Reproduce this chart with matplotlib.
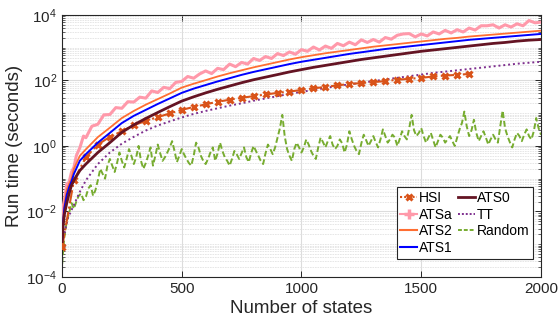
import numpy as np
import matplotlib
matplotlib.use("Agg")
import matplotlib.pyplot as plt
from matplotlib.lines import Line2D
from matplotlib.ticker import LogLocator, FixedLocator, NullFormatter

plt.rcParams["font.family"] = ["Liberation Sans", "DejaVu Sans"]
plt.rcParams["mathtext.fontset"] = "custom"
plt.rcParams["mathtext.rm"] = "Liberation Sans"
plt.rcParams["mathtext.default"] = "regular"

# ---- run time (seconds) versus number of states ----
x_hsi = [1, 50, 100, 150, 200, 250, 300, 350, 400, 450, 500, 550, 600, 650, 700,
         750, 800, 850, 900, 950, 1000, 1050, 1100, 1150, 1200, 1250, 1300, 1350,
         1400, 1450, 1500, 1550, 1600, 1650, 1700]
hsi = [0.00083, 0.09, 0.45, 1.1, 1.9, 2.8, 4.3, 5.8, 7.6, 9.8, 12.6, 15.5, 18.6,
       22.4, 25.7, 29.5, 33.1, 37.2, 41.7, 45.7, 51.3, 57.5, 63.1, 70.8, 77.6, 83.2,
       89.1, 95.5, 105, 112, 120, 132, 141, 148, 158]

x_smooth = [1, 5, 10, 20, 30, 40, 50, 75, 100, 150, 200, 250, 300, 350, 400, 450,
            500, 550, 600, 650, 700, 750, 800, 850, 900, 950, 1000, 1050, 1100, 1150,
            1200, 1250, 1300, 1350, 1400, 1450, 1500, 1550, 1600, 1650, 1700, 1750,
            1800, 1850, 1900, 1950, 2000]
ats0 = [0.0012, 0.00355, 0.0079, 0.0178, 0.0355, 0.063, 0.089, 0.178, 0.28, 0.63,
        1.26, 2.6, 4.4, 6.9, 10.5, 15.8, 23.4, 31.6, 41.7, 53.7, 67.6, 85.1, 105, 126,
        151, 182, 214, 251, 288, 331, 380, 437, 490, 550, 617, 692, 776, 851, 933,
        1023, 1122, 1230, 1349, 1445, 1585, 1698, 1778]
ats1 = [0.0014, 0.005, 0.0126, 0.0316, 0.055, 0.083, 0.14, 0.355, 0.56, 1.26, 2.5,
        5.0, 8.3, 12.6, 19.1, 28.2, 41.7, 56.2, 72.4, 93.3, 117, 148, 182, 219, 263,
        316, 372, 427, 490, 562, 646, 724, 813, 912, 1000, 1096, 1202, 1318, 1445,
        1585, 1738, 1862, 1995, 2138, 2291, 2455, 2630]
ats2 = [0.0016, 0.0063, 0.0158, 0.045, 0.07, 0.1, 0.2, 0.5, 0.79, 1.86, 3.6, 7.1,
        11.7, 18.2, 26.9, 39.8, 60.3, 79.4, 102, 132, 166, 204, 251, 302, 363, 437,
        513, 589, 676, 759, 851, 955, 1072, 1175, 1288, 1413, 1549, 1698, 1862, 1995,
        2188, 2344, 2512, 2692, 2884, 3090, 3311]

x_atsa = [1, 5, 10, 20, 30, 40, 50, 60, 75, 90, 100, 125, 150, 175, 200, 225, 250,
          275, 300, 325, 350, 375, 400, 425, 450, 475, 500, 525, 550, 575, 600, 625,
          650, 675, 700, 725, 750, 775, 800, 825, 850, 875, 900, 925, 950, 975, 1000,
          1025, 1050, 1075, 1100, 1125, 1150, 1175, 1200, 1225, 1250, 1275, 1300,
          1325, 1350, 1375, 1400, 1425, 1450, 1475, 1500, 1525, 1550, 1575, 1600,
          1625, 1650, 1675, 1700, 1725, 1750, 1775, 1800, 1825, 1850, 1875, 1900,
          1925, 1950, 1975, 2000]
atsa = [0.0045, 0.014, 0.022, 0.068, 0.079, 0.16, 0.22, 0.5, 0.89, 2.0, 1.78, 4.0,
        4.6, 8.9, 9.1, 14.8, 14.1, 22.4, 21.9, 30.9, 28.8, 47.9, 42.7, 61.7, 56.2,
        87.1, 93.3, 132, 117, 158, 195, 162, 234, 214, 316, 263, 355, 316, 468, 407,
        537, 468, 661, 575, 741, 631, 871, 776, 1047, 851, 1122, 955, 1349, 1148,
        1479, 1230, 1738, 1445, 1778, 1479, 2042, 1820, 2399, 2630, 2692, 2138, 2630,
        2291, 3020, 2630, 3388, 2818, 3548, 3020, 3981, 3467, 4677, 4677, 5012, 3981,
        5012, 4266, 5370, 4677, 6761, 5754, 6026]

x_tt = [1, 10, 25, 50, 75, 100, 150, 200, 250, 300, 350, 400, 450, 500, 550, 600,
        650, 700, 750, 800, 850, 900, 950, 1000, 1050, 1100, 1150, 1200, 1250, 1300,
        1350, 1400, 1450, 1500, 1550, 1600, 1650, 1700, 1750, 1800, 1850, 1900, 1950,
        2000]
tt = [0.00079, 0.002, 0.0063, 0.0158, 0.04, 0.089, 0.28, 0.63, 1.17, 1.9, 2.95, 4.2,
      5.6, 7.4, 9.5, 11.7, 14.1, 17.0, 20.0, 24.0, 28.2, 33.1, 38.9, 44.7, 51.3, 58.9,
      67.6, 75.9, 85.1, 95.5, 107, 120, 135, 151, 170, 186, 204, 224, 245, 269, 295,
      324, 347, 372]

x_random = [1, 5] + list(range(10, 2001, 10))
random_t = [
    0.00025, 0.00063,
    0.0016, 0.005, 0.009, 0.018, 0.012, 0.02, 0.03, 0.035, 0.022, 0.028,
    0.05, 0.063, 0.03, 0.045, 0.09, 0.2, 0.14, 0.1, 0.25, 0.4,
    0.25, 0.16, 0.3, 0.63, 0.35, 0.22, 0.4, 0.8, 0.5, 0.28,
    0.45, 1.0, 0.35, 0.2, 0.3, 0.5, 0.9, 0.25, 0.5, 1.1,
    0.6, 0.35, 0.45, 0.63, 0.9, 1.4, 0.7, 0.32, 0.5, 0.8,
    0.55, 0.4, 0.3, 0.25, 0.5, 1.26, 0.9, 0.5, 0.35, 0.28,
    0.4, 0.63, 0.9, 0.35, 0.6, 1.26, 0.7, 0.45, 0.35, 0.25,
    0.4, 0.7, 0.55, 0.4, 0.6, 0.9, 0.45, 0.32, 0.6, 1.0,
    0.7, 0.5, 0.35, 0.28, 0.6, 1.1, 0.8, 0.56, 0.9, 1.8,
    3.5, 8.9, 2.0, 0.8, 0.5, 0.35, 0.8, 1.26, 0.9, 0.63,
    0.9, 1.58, 1.1, 0.7, 0.5, 0.4, 0.9, 1.8, 1.3, 0.9,
    1.4, 2.0, 1.1, 0.8, 1.0, 1.58, 1.2, 0.63, 1.1, 2.8,
    1.6, 1.0, 0.7, 0.56, 1.2, 2.2, 1.5, 1.0, 1.4, 2.0,
    1.3, 0.9, 1.6, 3.2, 2.0, 1.26, 1.6, 2.2, 1.8, 1.0,
    1.6, 2.8, 2.0, 1.58, 3.5, 8.9, 3.0, 2.0, 2.5, 3.5,
    2.0, 1.26, 1.8, 2.5, 1.5, 0.9, 1.4, 2.2, 1.8, 1.26,
    1.6, 2.0, 1.4, 1.0, 1.8, 3.2, 5.0, 11.2, 4.0, 2.0,
    3.0, 6.3, 2.5, 1.4, 2.0, 2.8, 1.8, 1.1, 1.6, 2.2,
    1.6, 1.26, 4.0, 12.0, 3.5, 2.0, 1.3, 0.9, 1.6, 2.5,
    2.0, 1.4, 2.2, 3.2, 2.0, 1.58, 2.8, 7.1, 3.5, 2.2,
]

labels = ["HSI", "ATSa", "ATS2", "ATS1", "ATS0", "TT", "Random"]
c_hsi, c_atsa, c_ats2, c_ats1 = "#D95319", "#FF99AA", "#FF6E32", "#0000FF"
c_ats0, c_tt, c_rand = "#641423", "#7E2F8E", "#77AC30"

fig = plt.figure(figsize=(5.58, 3.25), dpi=100)
ax = fig.add_axes([0.111, 0.148, 0.8585, 0.806])

ax.plot(x_random, random_t, ls=(0, (3, 1.5)), color=c_rand, lw=1.4, zorder=2)
ax.plot(x_tt, tt, ls=(0, (1, 1.5)), color=c_tt, lw=1.4, zorder=3)
ax.plot(x_hsi, hsi, ls="-.", color=c_hsi, lw=1.5, marker="x", ms=5, mew=2.2,
        zorder=4)
ax.plot(x_atsa, atsa, color=c_atsa, lw=2.2, zorder=5)
ax.plot(x_smooth, ats2, color=c_ats2, lw=1.3, zorder=6)
ax.plot(x_smooth, ats1, color=c_ats1, lw=1.4, zorder=7)
ax.plot(x_smooth, ats0, color=c_ats0, lw=2.0, zorder=8)

ax.set_yscale("log")
ax.set_xlim(0, 2000)
ax.set_ylim(1e-4, 1e4)
ax.set_xticks([0, 500, 1000, 1500, 2000])
ax.yaxis.set_major_locator(FixedLocator([1e-4, 1e-2, 1e0, 1e2, 1e4]))
ax.yaxis.set_minor_locator(LogLocator(base=10, subs=np.arange(1, 10), numticks=20))
ax.yaxis.set_minor_formatter(NullFormatter())

ax.grid(True, which="major", color="#dcdcdc", lw=0.8)
ax.grid(True, which="minor", axis="y", color="#e3e3e3", lw=0.6, ls=(0, (2, 1)))
ax.set_axisbelow(True)

ax.tick_params(which="both", direction="in", top=True, right=True, labelsize=11,
               colors="#262626")
ax.tick_params(which="major", length=4, width=0.7)
ax.tick_params(which="minor", length=2.2, width=0.5)
for sp in ax.spines.values():
    sp.set_color("#262626")
    sp.set_linewidth(0.8)

ax.set_xlabel("Number of states", fontsize=13.5, color="#262626", labelpad=3)
ax.set_ylabel("Run time (seconds)", fontsize=13.5, color="#262626", labelpad=2)

handles = [
    Line2D([], [], ls=(0, (1, 1)), color=c_hsi, lw=1.5, marker="x", ms=5, mew=2.2),
    Line2D([], [], color=c_atsa, lw=1.5, marker="+", ms=7, mew=2.5),
    Line2D([], [], color=c_ats2, lw=1.5),
    Line2D([], [], color=c_ats1, lw=1.5),
    Line2D([], [], color=c_ats0, lw=2.0),
    Line2D([], [], ls=(0, (1, 1)), color=c_tt, lw=1.4),
    Line2D([], [], ls=(0, (2, 1)), color=c_rand, lw=1.4),
]
leg = ax.legend(handles, labels, ncol=2, loc="lower right",
                bbox_to_anchor=(0.984, 0.07), fontsize=10, frameon=True,
                fancybox=False, framealpha=1, edgecolor="#262626",
                handlelength=1.2, handletextpad=0.15, columnspacing=0.4,
                labelspacing=0.2, borderpad=0.25, borderaxespad=0)
leg.get_frame().set_linewidth(0.8)

fig.savefig("out.png", dpi=100)
